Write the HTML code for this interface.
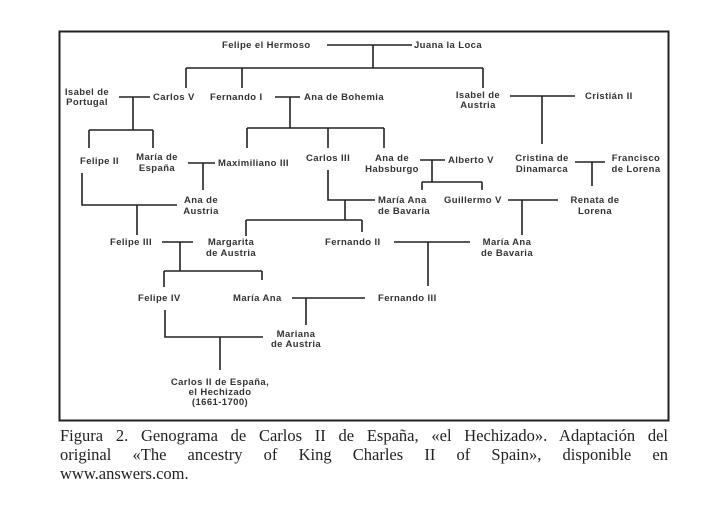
<!DOCTYPE html>
<html><head><meta charset="utf-8"><style>
html,body{margin:0;padding:0;background:#fff;width:728px;height:515px;overflow:hidden}
svg{position:absolute;left:0;top:0}
.t{font-family:"Liberation Sans",sans-serif;font-size:9.5px;font-weight:bold;fill:#333;letter-spacing:0.4px}
.cap{position:absolute;left:60px;width:608px;top:426px;font-family:"Liberation Serif",serif;font-size:16.5px;line-height:19px;color:#222}
.cap div{text-align:justify;text-align-last:justify;white-space:nowrap}
.cap div.l{text-align-last:left}
</style></head><body>
<svg width="728" height="515" viewBox="0 0 728 515">
<rect x="59.5" y="31.5" width="609" height="389" fill="#fff" stroke="#222" stroke-width="2"/>
<g stroke="#222" stroke-width="1.6" fill="none">
<path d="M327 45H412M373 45V68M186 68H483M186 68V88M242 68V88M483 68V88"/>
<path d="M119 97H150M133 97V130M89 130H153M89 130V148M153 130V148"/>
<path d="M275 97H300M290 97V128M247 128H384M247 128V148M328 128V148M384 128V148"/>
<path d="M510 96H575M542 96V144"/>
<path d="M188 163H215M203 163V190"/>
<path d="M82 173V205H177M137 205V235"/>
<path d="M328 170V200H375M345 200V220M246 220H362M246 220V236M362 220V232"/>
<path d="M420 160H445M432 160V182M422 182H482M422 182V190M482 182V190"/>
<path d="M508 200H558M522 200V235"/>
<path d="M575 162H605M592 162V186"/>
<path d="M162 242H193M180 242V271M164 271H262M164 271V287M262 271V280"/>
<path d="M394 242H470M428 242V286"/>
<path d="M292 298H365M306 298V325"/>
<path d="M165 310V337H263M220 337V370"/>
</g>
<g class="t">
<text x="222" y="48">Felipe el Hermoso</text>
<text x="414" y="48">Juana la Loca</text>
<text x="87" y="95" text-anchor="middle">Isabel de</text>
<text x="87" y="105" text-anchor="middle">Portugal</text>
<text x="153" y="100">Carlos V</text>
<text x="210" y="100">Fernando I</text>
<text x="304" y="100">Ana de Bohemia</text>
<text x="478" y="98" text-anchor="middle">Isabel de</text>
<text x="478" y="108" text-anchor="middle">Austria</text>
<text x="585" y="99">Cristián II</text>
<text x="80" y="164">Felipe II</text>
<text x="157" y="160" text-anchor="middle">María de</text>
<text x="157" y="171" text-anchor="middle">España</text>
<text x="218" y="166">Maximiliano III</text>
<text x="306" y="161">Carlos III</text>
<text x="392" y="161" text-anchor="middle">Ana de</text>
<text x="392" y="172" text-anchor="middle">Habsburgo</text>
<text x="448" y="163">Alberto V</text>
<text x="542" y="161" text-anchor="middle">Cristina de</text>
<text x="542" y="172" text-anchor="middle">Dinamarca</text>
<text x="636" y="161" text-anchor="middle">Francisco</text>
<text x="636" y="172" text-anchor="middle">de Lorena</text>
<text x="201" y="203" text-anchor="middle">Ana de</text>
<text x="201" y="214" text-anchor="middle">Austria</text>
<text x="378" y="203">María Ana</text>
<text x="378" y="214">de Bavaria</text>
<text x="444" y="203">Guillermo V</text>
<text x="595" y="203" text-anchor="middle">Renata de</text>
<text x="595" y="214" text-anchor="middle">Lorena</text>
<text x="110" y="245">Felipe III</text>
<text x="231" y="245" text-anchor="middle">Margarita</text>
<text x="231" y="256" text-anchor="middle">de Austria</text>
<text x="325" y="245">Fernando II</text>
<text x="507" y="245" text-anchor="middle">María Ana</text>
<text x="507" y="256" text-anchor="middle">de Bavaria</text>
<text x="138" y="301">Felipe IV</text>
<text x="233" y="301">María Ana</text>
<text x="378" y="301">Fernando III</text>
<text x="296" y="337" text-anchor="middle">Mariana</text>
<text x="296" y="347" text-anchor="middle">de Austria</text>
<text x="220" y="385" text-anchor="middle">Carlos II de España,</text>
<text x="220" y="395" text-anchor="middle">el Hechizado</text>
<text x="220" y="405" text-anchor="middle">(1661-1700)</text>
</g>
</svg>
<div class="cap">
<div>Figura 2. Genograma de Carlos II de España, «el Hechizado». Adaptación del</div>
<div>original «The ancestry of King Charles II of Spain», disponible en</div>
<div class="l">www.answers.com.</div>
</div>
</body></html>
